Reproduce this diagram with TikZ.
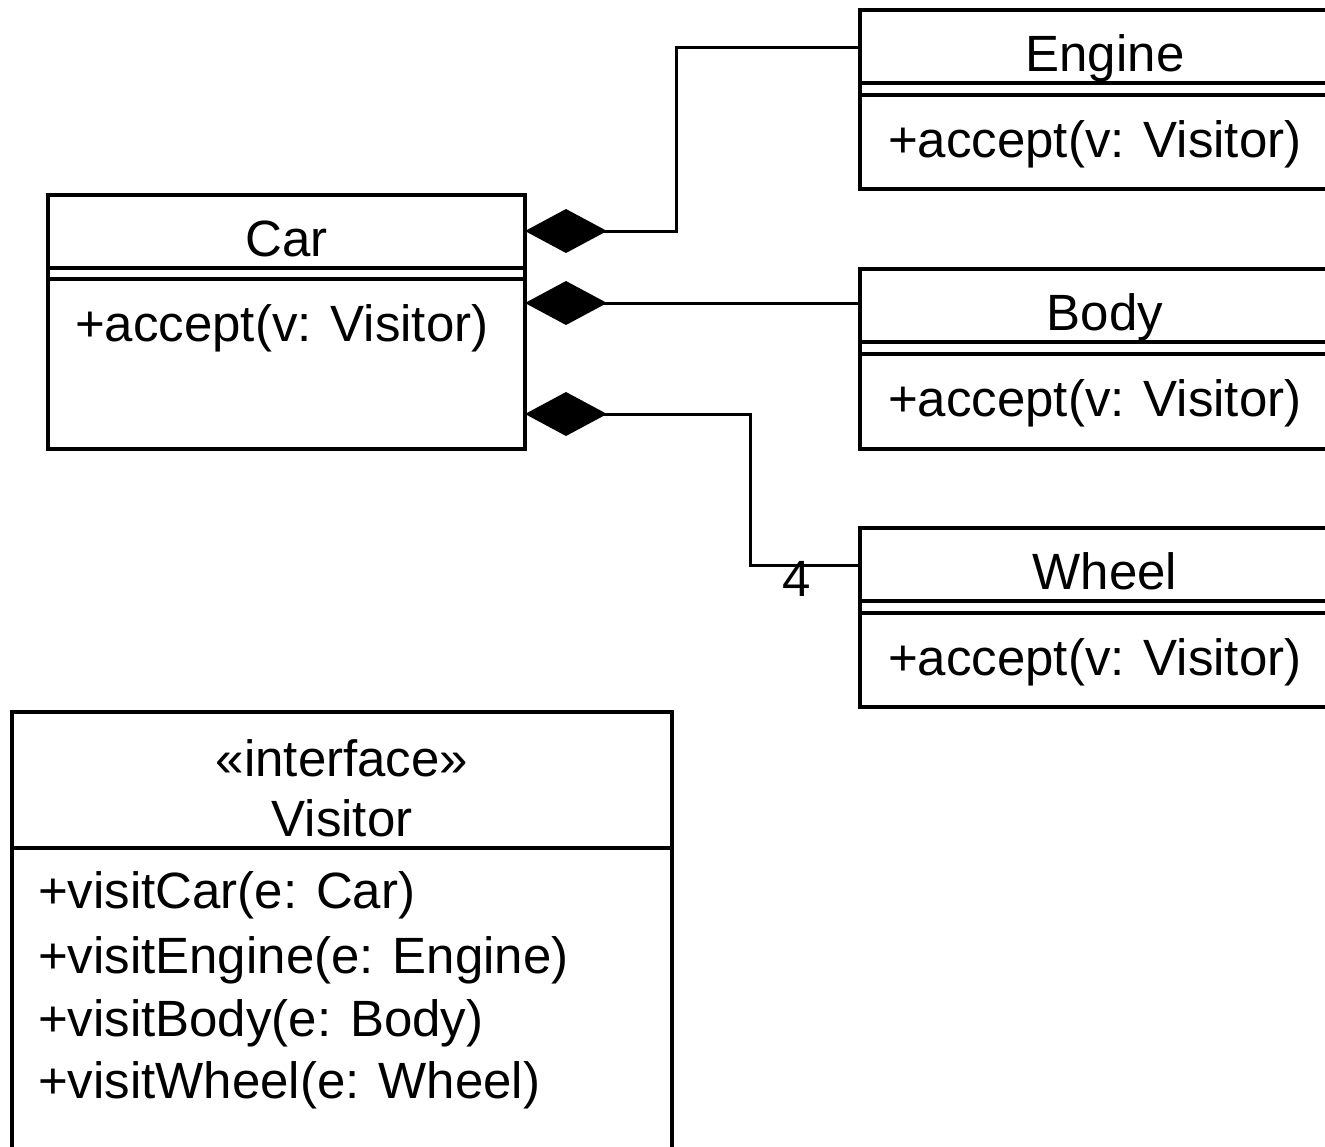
\documentclass[tikz,border=0pt]{standalone}
\usepackage{fontspec}
\setmainfont{Liberation Sans}
\usetikzlibrary{arrows.meta,calc,fit}
\begin{document}
\begin{tikzpicture}[x=0.5pt,y=-0.5pt,
  every node/.style={font=\fontsize{25.5pt}{30pt}\selectfont, inner sep=0pt, outer sep=0pt},
  frame/.style={inner sep=0pt, outer sep=0pt},
  border/.style={line width=2pt},
  comp/.style={line width=1.5pt, {Diamond[length=41pt,width=22pt]}-},
  cname/.style={anchor=base},
  op/.style={anchor=base west}]
\useasboundingbox (0,0) rectangle (1325,1146);
\coordinate (R) at (1325,0);

% class frames
\node[frame, fit={(48,195)(525,449)}] (car) {};
\node[frame, fit={(860,10)(1350,189)}] (engine) {};
\node[frame, fit={(860,269)(1350,449)}] (body) {};
\node[frame, fit={(860,528)(1350,707)}] (wheel) {};
\node[frame, fit={(12,712)(672,1160)}] (visitor) {};

% Car
\draw[border] (car.south west) rectangle (car.north east);
\draw[border] ($(car.north west)+(0,73)$) -- ($(car.north east)+(0,73)$);
\draw[border] ($(car.north west)+(0,84)$) -- ($(car.north east)+(0,84)$);
\node[cname] (carn) at ($(car.north)+(0,61)$) {Car};
\node[op] (carop) at ($(car.north west)+(27,146)$) {+accept(v: Visitor)};

% Engine, Body, Wheel (open to the right edge)
\foreach \n/\t in {engine/Engine, body/Body, wheel/Wheel}{
  \draw[border] (\n.north west -| R) -- (\n.north west) -- (\n.south west) -- (\n.south west -| R);
  \draw[border] ($(\n.north west)+(0,73)$) -- ($(\n.north west -| R)+(0,73)$);
  \draw[border] ($(\n.north west)+(0,85)$) -- ($(\n.north west -| R)+(0,85)$);
  \node[cname] (\n n) at ($(\n.north)+(0,61)$) {\t};
  \node[op] (\n op) at ($(\n.north west)+(28,147)$) {+accept(v: Visitor)};
}

% Visitor interface
\draw[border] (visitor.south west) -- (visitor.north west) -- (visitor.north east) -- (visitor.south east);
\draw[border] ($(visitor.north west)+(0,136)$) -- ($(visitor.north east)+(0,136)$);
\node[cname] (vst) at ($(visitor.north)+(0,64)$) {«interface»};
\node[cname] (vnm) at ($(visitor.north)+(0,124)$) {Visitor};
\node[op] (m1) at ($(visitor.north west)+(26,196)$) {+visitCar(e: Car)};
\node[op] (m2) at ($(visitor.north west)+(26,261)$) {+visitEngine(e: Engine)};
\node[op] (m3) at ($(visitor.north west)+(26,324)$) {+visitBody(e: Body)};
\node[op] (m4) at ($(visitor.north west)+(26,386)$) {+visitWheel(e: Wheel)};

% composition connectors
\coordinate (c1) at ($(car.north east)+(0,36)$);
\coordinate (c2) at ($(car.north east)+(0,108)$);
\coordinate (c3) at ($(car.north east)+(0,219)$);
\coordinate (e1) at ($(engine.north west)+(0,37)$);
\coordinate (w1) at ($(wheel.north west)+(0,37)$);
\draw[comp] (c1) -| ($(e1)+(-184,0)$) -- (e1);
\draw[comp] (c2) -- (c2 -| body.west);
\draw[comp] (c3) -| ($(w1)+(-110,0)$) -- (w1);
\node[cname] (mult) at ($(w1)+(-63,31)$) {4};
\end{tikzpicture}
\end{document}
